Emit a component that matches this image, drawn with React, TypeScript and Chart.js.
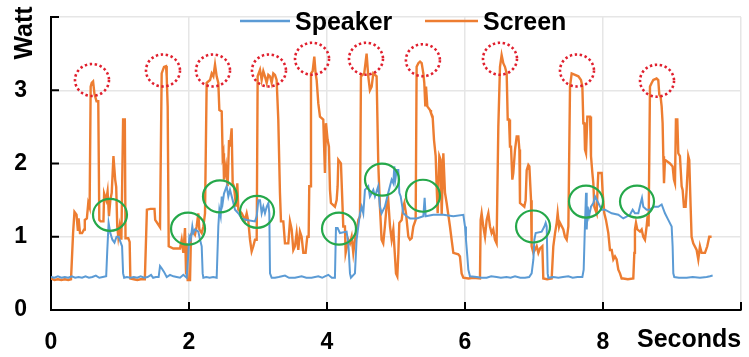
import { useEffect, useRef } from 'react';
import { Chart, registerables } from 'chart.js';

Chart.register(...registerables);

// ---- Data (seconds / watts) ----
const speakerTime = [
  0.00, 0.05, 0.10, 0.15, 0.20, 0.25, 0.30, 0.35, 0.40, 0.45, 0.50, 0.55, 0.60, 0.65, 0.70, 0.75, 0.80,
  0.815, 0.835, 0.86, 0.89, 0.92, 0.95, 0.98, 1.01, 1.03, 1.045, 1.06, 1.10, 1.15, 1.20, 1.25, 1.30, 1.35,
  1.40, 1.45, 1.48, 1.52, 1.56, 1.58, 1.604, 1.638, 1.677, 1.725, 1.773, 1.822, 1.87, 1.918, 1.966, 1.991,
  2.005, 2.024, 2.048, 2.063, 2.087, 2.135, 2.16, 2.184, 2.198, 2.208, 2.25, 2.30, 2.35, 2.401, 2.425, 2.44,
  2.459, 2.474, 2.488, 2.507, 2.546, 2.57, 2.594, 2.633, 2.667, 2.715, 2.763, 2.836, 2.956, 2.981, 3.005,
  3.029, 3.053, 3.077, 3.101, 3.126, 3.15, 3.164, 3.174, 3.198, 3.246, 3.30, 3.391, 3.45, 3.536, 3.632, 3.70,
  3.777, 3.874, 3.93, 3.97, 4.019, 4.07, 4.115, 4.13, 4.154, 4.188, 4.284, 4.309, 4.333, 4.347, 4.405, 4.429,
  4.454, 4.478, 4.502, 4.526, 4.55, 4.598, 4.622, 4.671, 4.695, 4.743, 4.767, 4.791, 4.839, 4.888, 4.912,
  4.937, 4.961, 4.976, 4.99, 5.01, 5.034, 5.048, 5.068, 5.106, 5.155, 5.203, 5.299, 5.396, 5.415, 5.43,
  5.541, 5.686, 5.831, 5.976, 6.00, 6.014, 6.034, 6.048, 6.072, 6.169, 6.24, 6.314, 6.38, 6.458, 6.52, 6.603,
  6.66, 6.725, 6.80, 6.87, 6.93, 6.966, 6.991, 7.005, 7.024, 7.111, 7.15, 7.169, 7.184, 7.198, 7.208, 7.28,
  7.353, 7.42, 7.498, 7.56, 7.63, 7.701, 7.72, 7.735, 7.754, 7.764, 7.778, 7.797, 7.826, 7.86, 7.884, 7.932,
  7.981, 8.029, 8.126, 8.222, 8.294, 8.391, 8.43, 8.463, 8.512, 8.546, 8.565, 8.584, 8.632, 8.681, 8.729,
  8.801, 8.85, 8.898, 8.946, 8.995, 9.009, 9.019, 9.033, 9.10, 9.212, 9.30, 9.405, 9.502, 9.55, 9.589,
];
const speakerWatt = [
  0.45, 0.44, 0.46, 0.44, 0.45, 0.44, 0.46, 0.44, 0.45, 0.44, 0.46, 0.44, 0.45, 0.47, 0.44, 0.45, 0.46,
  0.80, 1.19, 1.05, 0.96, 0.92, 1.00, 1.00, 0.92, 0.87, 0.50, 0.44, 0.45, 0.44, 0.45, 0.44, 0.46, 0.44,
  0.45, 0.48, 0.44, 0.45, 0.45, 0.60, 0.57, 0.52, 0.45, 0.48, 0.46, 0.45, 0.44, 0.48, 0.44, 0.77,
  1.00, 0.96, 1.14, 1.05, 1.10, 1.07, 0.96, 0.87, 0.50, 0.44, 0.45, 0.44, 0.45, 0.44, 1.14, 1.37,
  1.28, 1.55, 1.46, 1.59, 1.69, 1.55, 1.64, 1.50, 1.37, 1.32, 1.25, 1.23, 1.21, 1.28, 1.50,
  1.50, 1.32, 1.41, 1.32, 1.41, 1.46, 1.32, 0.50, 0.44, 0.44, 0.45, 0.47, 0.44, 0.44, 0.46, 0.44,
  0.44, 0.46, 0.44, 0.46, 0.48, 0.44, 0.44, 1.12, 1.12, 1.05, 1.07, 0.91, 0.50, 0.44, 0.50, 0.96,
  1.14, 1.32, 1.41, 1.32, 1.64, 1.69, 1.55, 1.64, 1.55, 1.69, 1.41, 1.32, 1.41, 1.60, 1.69,
  1.78, 1.73, 1.96, 1.78, 1.91, 1.91, 1.60, 1.55, 1.32, 1.28, 1.25, 1.25, 1.28, 1.53, 1.28,
  1.30, 1.30, 1.28, 1.30, 1.14, 0.96, 0.73, 0.55, 0.46, 0.45, 0.44, 0.44, 0.46, 0.45, 0.44, 0.45,
  0.44, 0.46, 0.44, 0.44, 0.45, 0.50, 0.69, 0.96, 1.05, 1.07, 1.14, 1.19, 1.14, 0.50, 0.44, 0.45,
  0.44, 0.45, 0.46, 0.44, 0.45, 0.45, 0.55, 1.05, 1.60, 1.10, 1.41, 1.28, 1.41, 1.46, 1.55, 1.46,
  1.37, 1.37, 1.32, 1.30, 1.25, 1.30, 1.37, 1.32, 1.32, 1.46, 1.53, 1.41, 1.37, 1.37, 1.41,
  1.41, 1.44, 1.32, 1.23, 1.14, 0.87, 0.50, 0.45, 0.44, 0.44, 0.45, 0.44, 0.45, 0.46, 0.47,
];

const screenTime = [
  0.00, 0.05, 0.10, 0.15, 0.20, 0.25, 0.29, 0.32, 0.34, 0.37, 0.39, 0.40, 0.42, 0.45, 0.48, 0.49, 0.52, 0.54,
  0.56, 0.575, 0.59, 0.61, 0.63, 0.66, 0.685, 0.70, 0.72, 0.76, 0.77, 0.80, 0.82, 0.84, 0.86, 0.88, 0.905,
  0.93, 0.945, 0.96, 0.975, 0.995, 1.02, 1.045, 1.07, 1.08, 1.12, 1.14, 1.15, 1.20, 1.25, 1.30, 1.36, 1.39,
  1.44, 1.50, 1.51, 1.58, 1.604, 1.638, 1.667, 1.677, 1.691, 1.706, 1.773, 1.870, 1.894, 1.918, 1.942, 1.957,
  1.966, 1.981, 2.015, 2.029, 2.063, 2.087, 2.111, 2.135, 2.15, 2.184, 2.208, 2.232, 2.256, 2.305, 2.329,
  2.353, 2.377, 2.401, 2.425, 2.44, 2.474, 2.488, 2.498, 2.507, 2.536, 2.56, 2.58, 2.594, 2.618, 2.633,
  2.652, 2.681, 2.70, 2.715, 2.763, 2.812, 2.836, 2.86, 2.884, 2.908, 2.932, 2.956, 2.981, 2.995, 3.029,
  3.053, 3.077, 3.101, 3.126, 3.15, 3.174, 3.198, 3.222, 3.246, 3.27, 3.294, 3.318, 3.333, 3.367, 3.391,
  3.439, 3.463, 3.488, 3.512, 3.536, 3.56, 3.584, 3.608, 3.632, 3.657, 3.69, 3.714, 3.734, 3.743, 3.758,
  3.768, 3.792, 3.816, 3.835, 3.85, 3.874, 3.898, 3.946, 3.97, 3.985, 4.009, 4.028, 4.043, 4.057, 4.115,
  4.14, 4.154, 4.164, 4.202, 4.236, 4.26, 4.27, 4.309, 4.333, 4.357, 4.381, 4.405, 4.429, 4.454, 4.478,
  4.492, 4.54, 4.574, 4.598, 4.622, 4.647, 4.671, 4.719, 4.743, 4.767, 4.791, 4.815, 4.839, 4.863, 4.888,
  4.913, 4.937, 4.961, 4.985, 5.00, 5.019, 5.034, 5.048, 5.082, 5.106, 5.121, 5.145, 5.164, 5.179, 5.203,
  5.227, 5.251, 5.285, 5.299, 5.324, 5.348, 5.372, 5.396, 5.41, 5.425, 5.435, 5.454, 5.493, 5.507, 5.531,
  5.551, 5.575, 5.589, 5.604, 5.628, 5.647, 5.662, 5.686, 5.71, 5.734, 5.758, 5.782, 5.806, 5.831, 5.903,
  5.927, 5.951, 5.976, 6.05, 6.12, 6.217, 6.227, 6.241, 6.265, 6.29, 6.314, 6.338, 6.362, 6.386, 6.41,
  6.434, 6.458, 6.483, 6.507, 6.531, 6.555, 6.579, 6.604, 6.619, 6.638, 6.652, 6.667, 6.686, 6.70, 6.725,
  6.749, 6.773, 6.788, 6.797, 6.86, 6.879, 6.894, 6.918, 6.933, 6.947, 6.957, 6.966, 6.991, 7.039, 7.063,
  7.087, 7.121, 7.135, 7.19, 7.256, 7.28, 7.305, 7.329, 7.343, 7.363, 7.377, 7.425, 7.449, 7.474, 7.498,
  7.522, 7.546, 7.643, 7.681, 7.701, 7.715, 7.73, 7.739, 7.754, 7.773, 7.812, 7.826, 7.846, 7.86, 7.874,
  7.908, 7.923, 7.932, 7.981, 7.995, 8.019, 8.043, 8.077, 8.101, 8.126, 8.15, 8.174, 8.198, 8.222, 8.246,
  8.27, 8.294, 8.36, 8.439, 8.454, 8.463, 8.478, 8.497, 8.536, 8.56, 8.584, 8.608, 8.632, 8.647, 8.661,
  8.681, 8.705, 8.729, 8.777, 8.801, 8.816, 8.835, 8.85, 8.864, 8.874, 8.884, 8.898, 8.97, 9.009, 9.028,
  9.043, 9.057, 9.077, 9.091, 9.115, 9.14, 9.154, 9.173, 9.197, 9.212, 9.236, 9.25, 9.27, 9.284, 9.308,
  9.357, 9.381, 9.405, 9.429, 9.478, 9.511, 9.54, 9.574,
];
const screenWatt = [
  0.43, 0.41, 0.42, 0.41, 0.42, 0.41, 0.42, 1.05, 1.34, 1.30, 1.08, 1.25, 1.05, 1.05, 1.10, 1.23, 1.25, 1.46,
  1.40, 3.05, 3.10, 3.12, 2.95, 2.85, 2.85, 1.23, 1.21, 1.21, 1.59, 1.50, 1.62, 1.28, 1.50, 1.60, 2.10,
  1.78, 1.68, 1.14, 1.00, 1.14, 0.96, 2.60, 2.60, 0.98, 0.98, 0.93, 0.43, 0.42, 0.41, 0.42, 0.42, 1.37,
  1.38, 1.38, 1.23, 1.13, 3.23, 3.32, 3.33, 3.19, 2.78, 0.87, 0.84, 0.84, 0.96, 0.78, 1.12, 0.50,
  0.91, 0.41, 0.41, 1.03, 1.07, 1.03, 1.14, 1.32, 1.10, 1.05, 1.14, 1.32, 3.10, 3.14, 3.23,
  3.19, 3.35, 3.19, 3.10, 2.73, 2.71, 2.10, 2.14, 1.78, 1.96, 1.69, 2.32, 2.23, 2.48, 1.73,
  1.69, 1.41, 1.73, 1.37, 1.32, 1.23, 1.32, 1.21, 0.96, 0.80, 0.87, 0.96, 0.96, 3.19, 3.28,
  3.14, 3.26, 3.19, 3.10, 3.21, 3.19, 3.10, 3.23, 3.21, 3.14, 2.60, 1.60, 1.21, 1.21, 0.91,
  0.91, 1.21, 1.10, 0.82, 0.87, 1.05, 0.82, 1.07, 1.00, 0.78, 0.78, 1.00, 1.00, 1.69, 1.69,
  3.23, 3.26, 3.46, 3.23, 3.14, 2.82, 2.64, 2.60, 1.87, 2.55, 2.32, 2.23, 1.64, 1.46, 1.41,
  1.50, 1.69, 2.05, 2.00, 1.14, 1.14, 0.78, 0.96, 0.91, 1.00, 0.78, 0.96, 1.07, 1.23, 1.28,
  3.19, 3.23, 3.50, 3.19, 3.00, 3.05, 3.23, 3.19, 2.00, 1.41, 0.96, 0.91, 1.14, 1.41, 1.50,
  1.14, 0.96, 1.10, 0.73, 0.50, 0.46, 0.78, 1.19, 1.23, 1.41, 1.46, 1.32, 1.14, 1.00, 0.96,
  0.98, 1.14, 1.23, 3.32, 3.37, 3.39, 3.37, 3.23, 3.10, 2.78, 3.05, 2.78, 2.73, 2.69, 2.64,
  2.32, 2.10, 1.69, 1.32, 2.10, 2.05, 1.30, 2.14, 1.60, 1.46, 1.30, 1.14, 0.96, 0.78, 0.76,
  0.73, 0.50, 0.44, 0.43, 0.44, 0.43, 1.23, 1.32, 1.14, 1.00, 1.23, 1.32, 1.14, 1.05, 1.10,
  0.96, 0.91, 2.50, 3.32, 3.48, 3.37, 3.32, 3.23, 2.60, 2.60, 2.23, 2.23, 1.78, 1.87, 2.19,
  2.37, 2.37, 2.19, 1.46, 1.41, 1.50, 1.91, 1.98, 1.96, 1.69, 1.50, 0.87, 0.78, 0.87, 0.78,
  0.84, 0.87, 0.43, 0.42, 0.43, 0.87, 1.05, 1.19, 1.32, 1.14, 1.19, 1.10, 1.00, 0.96, 1.14,
  3.05, 3.23, 3.19, 3.14, 3.05, 2.55, 2.55, 2.19, 2.14, 2.64, 2.64, 2.10, 1.87, 1.73, 1.41,
  1.32, 1.69, 1.87, 1.87, 1.60, 1.32, 1.23, 1.05, 0.82, 0.82, 0.69, 0.73, 0.69, 0.55, 0.50,
  0.43, 0.43, 0.42, 0.43, 0.78, 1.10, 1.19, 1.10, 1.07, 1.10, 1.00, 0.96, 1.14, 1.28, 1.14,
  3.05, 3.10, 3.14, 3.16, 3.14, 2.94, 2.91, 2.78, 2.55, 2.10, 1.73, 2.05, 2.00, 1.96, 1.78,
  1.73, 2.60, 2.60, 2.14, 2.10, 1.69, 1.64, 1.41, 1.41, 1.64, 2.10, 2.05, 1.41, 1.00, 0.91,
  0.82, 0.69, 0.87, 0.78, 0.78, 0.87, 1.00, 1.00,
];

// Annotation circles (centres in seconds / watts)
const peakCircleTime = [0.594, 1.623, 2.348, 3.159, 3.783, 4.565, 5.39, 6.507, 7.623, 8.783];
const peakCircleWatt = [3.14, 3.27, 3.27, 3.27, 3.43, 3.43, 3.41, 3.43, 3.27, 3.13];
const speakerCircleTime = [0.855, 1.986, 2.449, 2.986, 4.174, 4.797, 5.391, 6.986, 7.754, 8.493];
const speakerCircleWatt = [1.30, 1.11, 1.55, 1.34, 1.11, 1.78, 1.56, 1.14, 1.48, 1.48];

const xTicks = [0, 2, 4, 6, 8, 10];
const yTicks = [0, 1, 2, 3, 4];
const seriesNames = ['Speaker', 'Screen'];

const BLUE = '#5b9bd5';
const ORANGE = '#ed7d31';
const FONT = '"Liberation Sans", Arial, sans-serif';

export default function App() {
  const ref = useRef<HTMLCanvasElement>(null);

  useEffect(() => {
    document.body.style.margin = '0';
    const canvas = ref.current;
    if (!canvas) return;

    const decor = {
      id: 'decor',
      afterDatasetsDraw(chart: any) {
        const { ctx, scales } = chart;
        const xs = scales.x;
        const ys = scales.y;
        ctx.save();
        // red dotted circles round the screen peaks
        ctx.strokeStyle = '#e0202e';
        ctx.lineWidth = 2.6;
        ctx.setLineDash([2.4, 2.6]);
        peakCircleTime.forEach((t, i) => {
          ctx.beginPath();
          ctx.ellipse(xs.getPixelForValue(t), ys.getPixelForValue(peakCircleWatt[i]), 17, 16, 0, 0, Math.PI * 2);
          ctx.stroke();
        });
        // green circles on the speaker
        ctx.setLineDash([]);
        ctx.strokeStyle = '#25a84a';
        ctx.lineWidth = 2.2;
        speakerCircleTime.forEach((t, i) => {
          ctx.beginPath();
          ctx.ellipse(xs.getPixelForValue(t), ys.getPixelForValue(speakerCircleWatt[i]), 17, 16, 0, 0, Math.PI * 2);
          ctx.stroke();
        });
        ctx.restore();
      },
      afterDraw(chart: any) {
        const { ctx, scales, chartArea } = chart;
        const xs = scales.x;
        const ys = scales.y;
        ctx.save();
        // inward tick marks
        ctx.strokeStyle = '#000';
        ctx.lineWidth = 2;
        xTicks.forEach((v) => {
          if (v === 0) return;
          const px = xs.getPixelForValue(v);
          ctx.beginPath();
          ctx.moveTo(px, chartArea.bottom);
          ctx.lineTo(px, chartArea.bottom - 8);
          ctx.stroke();
        });
        yTicks.forEach((v) => {
          if (v === 0) return;
          const py = ys.getPixelForValue(v);
          ctx.beginPath();
          ctx.moveTo(chartArea.left, py);
          ctx.lineTo(chartArea.left + 8, py);
          ctx.stroke();
        });
        // legend
        ctx.font = `bold 25px ${FONT}`;
        ctx.fillStyle = '#000';
        ctx.textBaseline = 'alphabetic';
        ctx.textAlign = 'left';
        const legendItems = [
          { x0: 240, x1: 290, color: BLUE, name: seriesNames[0] },
          { x0: 425, x1: 478, color: ORANGE, name: seriesNames[1] },
        ];
        legendItems.forEach((it) => {
          ctx.strokeStyle = it.color;
          ctx.lineWidth = 2.5;
          ctx.beginPath();
          ctx.moveTo(it.x0, 21);
          ctx.lineTo(it.x1, 21);
          ctx.stroke();
          ctx.fillText(it.name, it.x1 + 5, 30);
        });
        // axis titles
        ctx.fillText('Seconds', 637, 347);
        ctx.translate(32, 33);
        ctx.rotate(-Math.PI / 2);
        ctx.textAlign = 'center';
        ctx.fillText('Watt', 0, 0);
        ctx.restore();
      },
    };

    const tickFont = { family: FONT, size: 23, weight: 'bold' as const };

    const chart = new Chart(canvas, {
      type: 'line',
      data: {
        datasets: [
          {
            label: seriesNames[0],
            data: speakerTime.map((t, i) => ({ x: t, y: speakerWatt[i] })),
            borderColor: BLUE,
            backgroundColor: BLUE,
            borderWidth: 2,
            pointRadius: 0,
            tension: 0,
            order: 0,
          },
          {
            label: seriesNames[1],
            data: screenTime.map((t, i) => ({ x: t, y: screenWatt[i] })),
            borderColor: ORANGE,
            backgroundColor: ORANGE,
            borderWidth: 2.4,
            pointRadius: 0,
            tension: 0,
            order: 1,
          },
        ],
      },
      options: {
        responsive: false,
        animation: false,
        devicePixelRatio: 1,
        layout: { padding: { left: 0, top: 17, right: 8, bottom: 0 } },
        plugins: { legend: { display: false }, tooltip: { enabled: false } },
        scales: {
          x: {
            type: 'linear',
            min: 0,
            max: 10,
            afterFit: (s: any) => { s.height = 47; s.paddingLeft = 0; s.paddingRight = 0; },
            afterBuildTicks: (s: any) => { s.ticks = xTicks.map((v) => ({ value: v })); },
            ticks: {
              autoSkip: false,
              maxRotation: 0,
              padding: 19,
              color: '#000',
              font: tickFont,
              callback: (v: any) => (v === 10 ? '' : String(v)),
            },
            grid: { color: '#e6e6e6', lineWidth: 1.5, drawTicks: false },
            border: { display: true, color: '#000', width: 2 },
          },
          y: {
            type: 'linear',
            min: 0,
            max: 4,
            afterFit: (s: any) => { s.width = 51; s.paddingTop = 0; s.paddingBottom = 0; },
            afterBuildTicks: (s: any) => { s.ticks = yTicks.map((v) => ({ value: v })); },
            ticks: {
              autoSkip: false,
              padding: 24,
              color: '#000',
              font: tickFont,
              callback: (v: any) => (v === 4 ? '' : String(v)),
            },
            grid: { color: '#e6e6e6', lineWidth: 1.5, drawTicks: false },
            border: { display: true, color: '#000', width: 2 },
          },
        },
      },
      plugins: [decor],
    });

    return () => chart.destroy();
  }, []);

  return (
    <div style={{ position: 'absolute', left: 0, top: 0, width: 749, height: 357, background: '#fff' }}>
      <canvas ref={ref} width={749} height={357} style={{ width: '749px', height: '357px', display: 'block' }} />
    </div>
  );
}
